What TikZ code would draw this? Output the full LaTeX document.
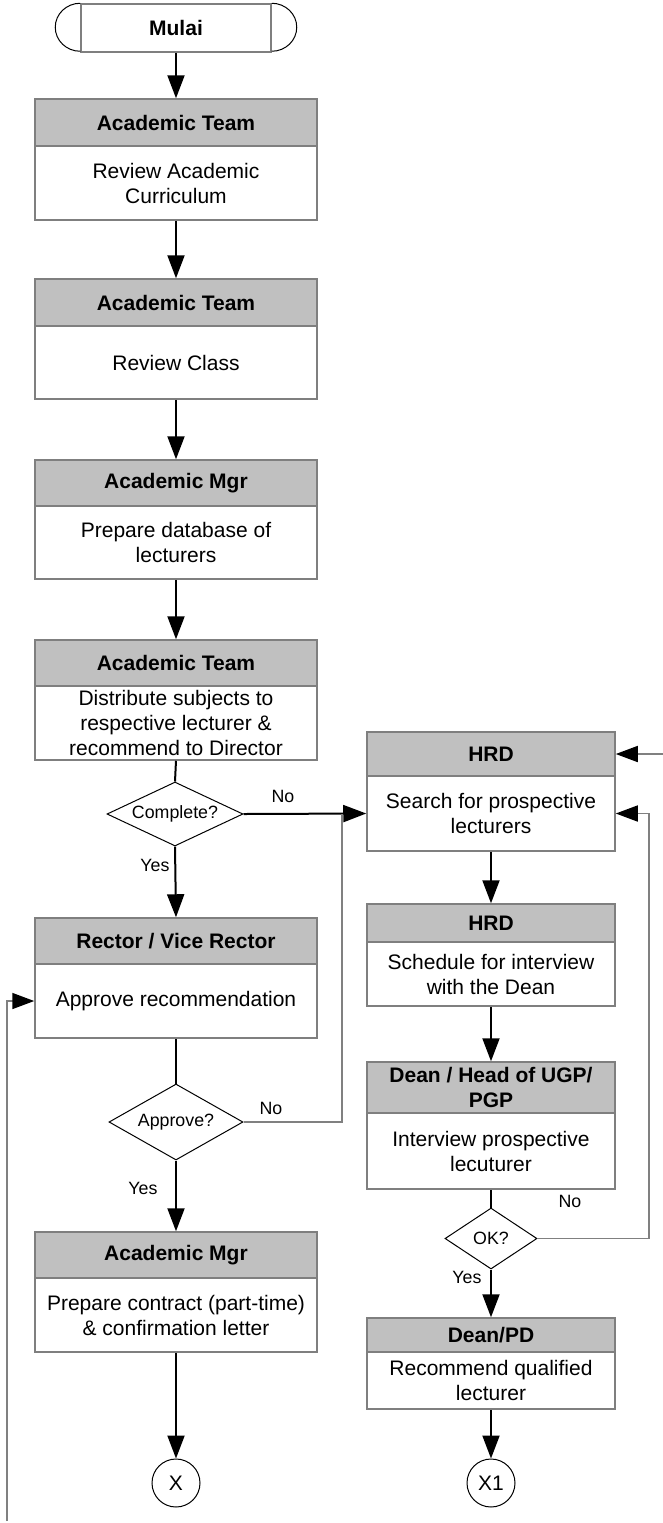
\documentclass[tikz,border=0pt]{standalone}
\usepackage{fontspec}
\setmainfont{Liberation Sans}
\usetikzlibrary{arrows.meta,shapes.geometric}
\definecolor{boxgray}{HTML}{7F7F7F}
\definecolor{hdrgray}{HTML}{C0C0C0}
\definecolor{linegray}{HTML}{808080}
% #1 name, #2 x centre, #3 width (px), #4 top, #5 header bottom, #6 bottom, #7 header, #8 body
\newcommand{\lanebox}[8]{%
  \node[hdr, minimum width={#3*0.5pt}, minimum height={(#5-#4)*0.5pt}] (#1h) at (#2,{(#4+#5)/2}) {#7};
  \node[bdy, minimum width={#3*0.5pt}, minimum height={(#6-#5)*0.5pt}] (#1b) at (#2,{(#6+#5)/2}) {#8};
}
\begin{document}
\begin{tikzpicture}[x=0.5pt,y=-0.5pt,
  font=\fontsize{10.5}{12.5}\selectfont,
  hdr/.style={draw=boxgray, fill=hdrgray, line width=0.75pt, inner sep=0pt, align=center, font=\fontsize{10.5}{12.5}\selectfont\bfseries},
  bdy/.style={draw=boxgray, fill=white, line width=0.75pt, inner sep=0pt, align=center},
  flow/.style={line width=1pt, draw=black, -{Triangle[length=11.5pt,width=8.5pt]}},
  plainline/.style={line width=1pt, draw=black},
  fb/.style={line width=0.75pt, draw=linegray, -{Triangle[length=11pt,width=8pt,color=black]}},
  fbplain/.style={line width=0.75pt, draw=linegray},
  dec/.style={diamond, draw=black, line width=0.5pt, inner sep=0pt},
  conn/.style={circle, draw=black, line width=0.5pt, minimum size=24pt, inner sep=0pt, font=\fontsize{10.5}{12.5}\selectfont},
  lbl/.style={inner sep=0pt, font=\fontsize{8.9}{10.5}\selectfont}]
\useasboundingbox (0,0) rectangle (663,1523);

% start terminal
\node[draw=boxgray, line width=0.75pt, minimum width=95pt, minimum height=24pt, inner sep=0pt, font=\fontsize{10.5}{12.5}\selectfont\bfseries] (start) at (176,28) {Mulai};
\draw[line width=0.5pt] (start.north west) arc[start angle=90, end angle=270, x radius=12.5pt, y radius=12pt];
\draw[line width=0.5pt] (start.north east) arc[start angle=90, end angle=-90, x radius=12.5pt, y radius=12pt];

% left column
\lanebox{a1}{176}{282}{99}{146}{220}{Academic Team}{Review Academic\\Curriculum}
\lanebox{a2}{176}{282}{279}{326}{399}{Academic Team}{Review Class}
\lanebox{a3}{176}{282}{460}{506}{579}{Academic Mgr}{Prepare database of\\lecturers}
\lanebox{a4}{176}{282}{640}{686}{760}{Academic Team}{Distribute subjects to\\respective lecturer \&\\recommend to Director}
\lanebox{rec}{176}{282}{918}{964}{1038}{Rector / Vice Rector}{Approve recommendation}
\lanebox{am}{176}{282}{1232}{1278}{1352}{Academic Mgr}{Prepare contract (part-time)\\\& confirmation letter}

% right column
\lanebox{h1}{491}{248}{732}{776}{851}{HRD}{Search for prospective\\lecturers}
\lanebox{h2}{491}{248}{904}{942}{1006}{HRD}{Schedule for interview\\with the Dean}
\lanebox{dn}{491}{248}{1062}{1113}{1189}{Dean / Head of UGP/\\PGP}{Interview prospective\\lecuturer}
\lanebox{pd}{491}{248}{1318}{1352}{1409}{Dean/PD}{Recommend qualified\\lecturer}

% decisions
\node[dec, minimum width=68pt, minimum height=32pt] (d1) at (175,814) {};
\node[lbl] (d1t) at (d1) {Complete?};
\node[dec, minimum width=67pt, minimum height=38pt] (d2) at (176,1122) {};
\node[lbl] (d2t) at (d2) {Approve?};
\node[dec, minimum width=46pt, minimum height=30.5pt] (d3) at (491,1238.5) {};
\node[lbl] (d3t) at (d3) {OK?};

% connectors (off-page)
\node[conn] (x) at (176,1483) {X};
\node[conn] (x1) at (491,1483) {X1};

% helper coordinates
\coordinate (j1) at (342,814);
\coordinate (lb) at (7,1521);
\coordinate (rt) at (663,754);
\coordinate (rc) at (649,1238.5);

% main flow
\draw[flow] (start.south) -- (a1h.north);
\draw[flow] (a1b.south) -- (a2h.north);
\draw[flow] (a2b.south) -- (a3h.north);
\draw[flow] (a3b.south) -- (a4h.north);
\draw[plainline] (a4b.south) -- (d1.north);
\draw[flow] (d1.east) -- (h1b.west);
\draw[flow] (d1.south) -- (rech.north);
\draw[plainline] (recb.south) -- (d2.north);
\draw[flow] (d2.south) -- (amh.north);
\draw[flow] (amb.south) -- (x.north);

\draw[flow] (h1b.south) -- (h2h.north);
\draw[flow] (h2b.south) -- (dnh.north);
\draw[plainline] (dnb.south) -- (d3.north);
\draw[flow] (d3.south) -- (pdh.north);
\draw[flow] (pdb.south) -- (x1.north);

% feedback lines
\draw[fbplain] (d2.east) -| (j1);
\draw[fb] (lb) |- (recb.west);
\draw[fb] (rt) -- (h1h.east);
\draw[fb] (d3.east) -- (rc) |- (h1b.east);

% labels
\node[lbl] (l1) at (283,796) {No};
\node[lbl] (l2) at (155,865) {Yes};
\node[lbl] (l3) at (271,1108) {No};
\node[lbl] (l4) at (143,1188) {Yes};
\node[lbl] (l5) at (570,1201) {No};
\node[lbl] (l6) at (467,1277) {Yes};
\end{tikzpicture}
\end{document}
